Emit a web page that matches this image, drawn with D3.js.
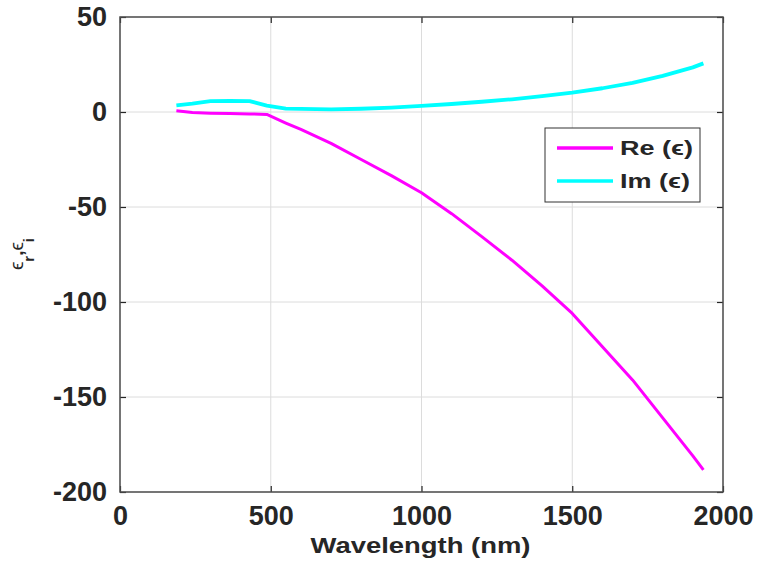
<!DOCTYPE html>
<html>
<head>
<meta charset="utf-8">
<script src="https://cdn.jsdelivr.net/npm/d3@7"></script>
<style>
  html, body { margin: 0; padding: 0; background: #fff; }
  svg { display: block; }
  text { font-family: "Liberation Sans", Arial, sans-serif; fill: #262626; }
</style>
</head>
<body>
<div id="chart"></div>
<script>
// Permittivity of the metal versus wavelength
const wavelength = [187, 240, 300, 365, 430, 487, 550, 600, 700, 800, 900, 1000, 1100, 1200, 1300, 1400, 1500, 1600, 1700, 1800, 1900, 1935];
const reEps = [0.6, -0.3, -0.6, -0.8, -1.0, -1.3, -5.8, -9.2, -16.5, -25, -33.5, -42.5, -53.5, -65.6, -78, -91.5, -106, -123.5, -141, -161, -181, -188.4];
const imEps = [3.5, 4.4, 5.7, 5.8, 5.7, 3.4, 1.8, 1.6, 1.4, 1.7, 2.3, 3.2, 4.2, 5.4, 6.7, 8.3, 10.2, 12.5, 15.3, 19, 23.5, 25.6];

const xTicks = [0, 500, 1000, 1500, 2000];
const yTicks = [-200, -150, -100, -50, 0, 50];
const seriesNames = ["Re (\u03F5)", "Im (\u03F5)"];
const seriesColors = ["#ff00ff", "#00ffff"];

const W = 757, H = 578;
const m = { left: 120, top: 17, right: 34, bottom: 86 };
const iw = W - m.left - m.right, ih = H - m.top - m.bottom;

const svg = d3.select("#chart").append("svg").attr("width", W).attr("height", H);
const g = svg.append("g").attr("transform", `translate(${m.left},${m.top})`);

const x = d3.scaleLinear().domain([0, 2000]).range([0, iw]);
const y = d3.scaleLinear().domain([-200, 50]).range([ih, 0]);
const fmt = d => String(d);

// grid
g.append("g").selectAll("line").data(xTicks).join("line")
  .attr("x1", d => x(d)).attr("x2", d => x(d)).attr("y1", 0).attr("y2", ih)
  .attr("stroke", "#dcdcdc").attr("stroke-width", 1);
g.append("g").selectAll("line").data(yTicks).join("line")
  .attr("y1", d => y(d)).attr("y2", d => y(d)).attr("x1", 0).attr("x2", iw)
  .attr("stroke", "#dcdcdc").attr("stroke-width", 1);

// axes with inward ticks
const tickLen = 6;
const styleAxis = (sel) => {
  sel.select(".domain").remove();
  sel.selectAll(".tick line").attr("stroke", "#262626").attr("stroke-width", 1.2);
  sel.selectAll(".tick text").attr("font-size", 27).attr("font-weight", "bold").attr("fill", "#262626");
};
g.append("g").attr("transform", `translate(0,${ih})`)
  .call(d3.axisBottom(x).tickValues(xTicks).tickSize(-tickLen).tickPadding(14).tickFormat(fmt))
  .call(styleAxis).call(a => a.selectAll(".tick text").attr("dy", "0.71em"));
g.append("g")
  .call(d3.axisLeft(y).tickValues(yTicks).tickSize(-tickLen).tickPadding(13).tickFormat(fmt))
  .call(styleAxis);
g.append("g")
  .call(d3.axisTop(x).tickValues(xTicks).tickSize(-tickLen).tickFormat(""))
  .call(styleAxis);
g.append("g").attr("transform", `translate(${iw},0)`)
  .call(d3.axisRight(y).tickValues(yTicks).tickSize(-tickLen).tickFormat(""))
  .call(styleAxis);

// box
g.append("rect").attr("x", 0).attr("y", 0).attr("width", iw).attr("height", ih)
  .attr("fill", "none").attr("stroke", "#4d4d4d").attr("stroke-width", 1.5);

// curves
const line = d3.line().x(d => x(d[0])).y(d => y(d[1]));
const series = [reEps, imEps];
series.forEach((vals, i) => {
  g.append("path").datum(wavelength.map((w, k) => [w, vals[k]]))
    .attr("d", line).attr("fill", "none")
    .attr("stroke", seriesColors[i]).attr("stroke-width", i === 0 ? 3 : 3.8)
    .attr("stroke-linejoin", "round");
});

// legend
const legendWidths = [73, 70];
const lg = svg.append("g").attr("transform", "translate(545,128)");
lg.append("rect").attr("width", 155).attr("height", 74)
  .attr("fill", "#fff").attr("stroke", "#333").attr("stroke-width", 1);
seriesNames.forEach((name, i) => {
  const yy = 20 + i * 33;
  lg.append("line").attr("x1", 12).attr("x2", 68).attr("y1", yy).attr("y2", yy)
    .attr("stroke", seriesColors[i]).attr("stroke-width", 3.5);
  lg.append("text").attr("x", 75).attr("y", yy + 7)
    .attr("font-size", 20).attr("font-weight", "bold")
    .attr("textLength", legendWidths[i]).attr("lengthAdjust", "spacingAndGlyphs")
    .text(name);
});

// axis titles
svg.append("text").attr("x", m.left + iw / 2 - 1).attr("y", 553)
  .attr("text-anchor", "middle").attr("font-size", 22).attr("font-weight", "bold")
  .attr("textLength", 220).attr("lengthAdjust", "spacingAndGlyphs")
  .text("Wavelength (nm)");

const yl = svg.append("text").attr("transform", "translate(23,254) rotate(-90)")
  .attr("text-anchor", "middle").attr("font-size", 19);
yl.append("tspan").text("\u03F5");
yl.append("tspan").attr("font-weight", "bold").attr("font-size", 15).attr("dy", 11).text("r");
yl.append("tspan").attr("font-weight", "bold").attr("dy", -11).text(",");
yl.append("tspan").text("\u03F5");
yl.append("tspan").attr("font-weight", "bold").attr("font-size", 15).attr("dy", 11).text("i");
</script>
</body>
</html>
